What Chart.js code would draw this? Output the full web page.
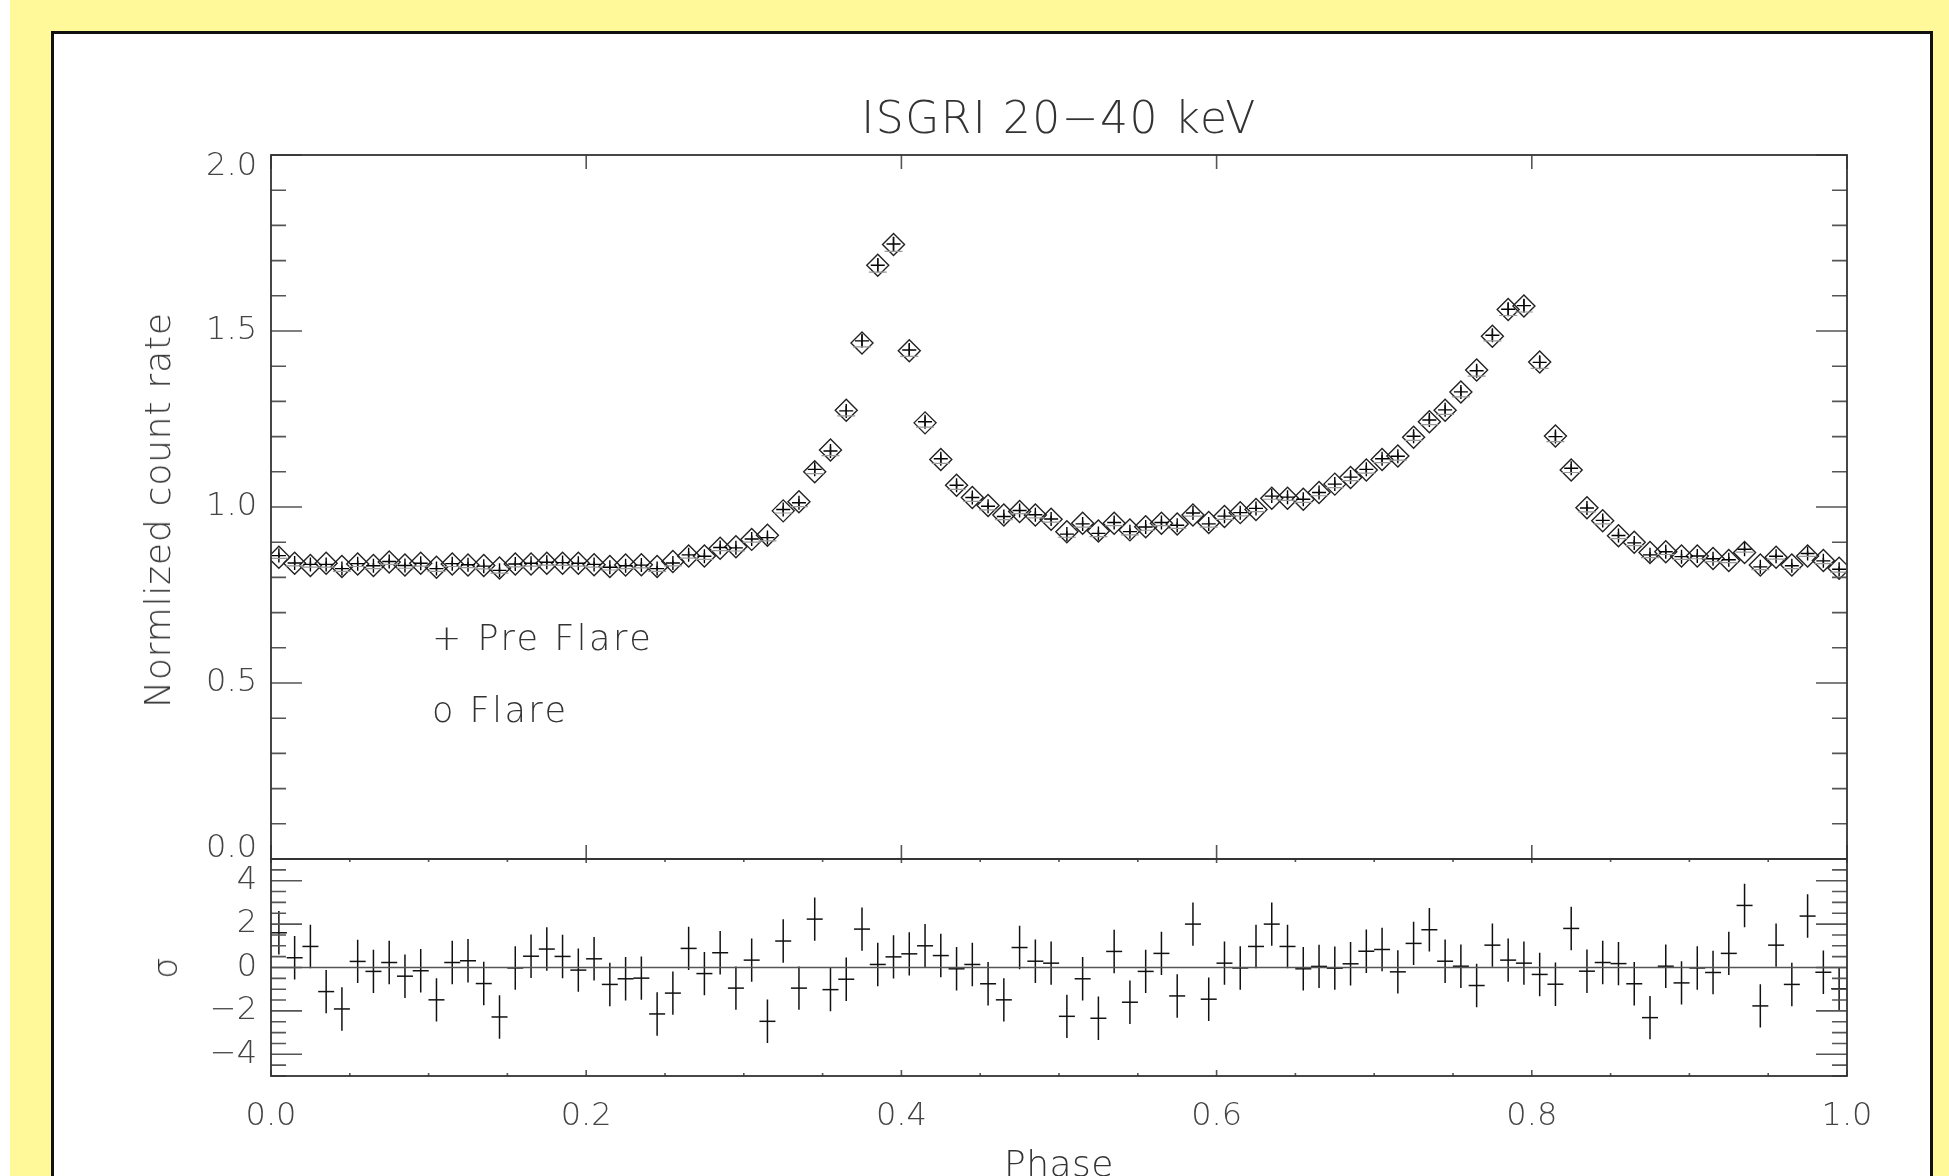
<!DOCTYPE html>
<html>
<head>
<meta charset="utf-8">
<script src="https://cdn.jsdelivr.net/npm/chart.js@4.4.1/dist/chart.umd.min.js"></script>
<style>
  html, body { margin: 0; padding: 0; }
  body {
    width: 1949px; height: 1176px; overflow: hidden; position: relative;
    background: #fff99a;
    font-family: 'DejaVu Sans', sans-serif; font-weight: 200; color: #333;
  }
  #edge { position: absolute; left: 0; top: 0; width: 10px; height: 1176px; background: #fff; }
  #panel {
    position: absolute; left: 51px; top: 31px; width: 1882px; height: 1200px;
    background: #fff; border: 3px solid #111; box-sizing: border-box;
  }
  canvas { position: absolute; left: 0; top: 0; }
  .txt { position: absolute; white-space: nowrap; line-height: 1; }
  .c { transform: translate(-50%, -50%); }
  .rot { transform: translate(-50%, -50%) rotate(-90deg); }
  .l { transform: translateY(-50%); }
</style>
</head>
<body>
<div id="edge"></div>
<div id="panel"></div>
<canvas id="top" width="1949" height="1176"></canvas>
<canvas id="bottom" width="1949" height="1176"></canvas>

<div class="txt c" style="left:1059px; top:118px; font-size:44px; letter-spacing:1.5px;">ISGRI 20−40 keV</div>
<div class="txt rot" style="left:158px; top:510px; font-size:36px; letter-spacing:0.8px;">Normlized count rate</div>
<div class="txt rot" style="left:165px; top:968px; font-size:34px;">σ</div>
<div class="txt c" style="left:1059px; top:1164px; font-size:36px; letter-spacing:0.5px;">Phase</div>
<div class="txt l" style="left:432px; top:638px; font-size:35px; letter-spacing:2.5px;">+ Pre Flare</div>
<div class="txt l" style="left:432px; top:710px; font-size:35px; letter-spacing:2.5px;">o Flare</div>

<script>
  // phase bin centres
  const phase = [
    0.005, 0.015, 0.025, 0.035, 0.045, 0.055, 0.065, 0.075, 0.085, 0.095,
    0.105, 0.115, 0.125, 0.135, 0.145, 0.155, 0.165, 0.175, 0.185, 0.195,
    0.205, 0.215, 0.225, 0.235, 0.245, 0.255, 0.265, 0.275, 0.285, 0.295,
    0.305, 0.315, 0.325, 0.335, 0.345, 0.355, 0.365, 0.375, 0.385, 0.395,
    0.405, 0.415, 0.425, 0.435, 0.445, 0.455, 0.465, 0.475, 0.485, 0.495,
    0.505, 0.515, 0.525, 0.535, 0.545, 0.555, 0.565, 0.575, 0.585, 0.595,
    0.605, 0.615, 0.625, 0.635, 0.645, 0.655, 0.665, 0.675, 0.685, 0.695,
    0.705, 0.715, 0.725, 0.735, 0.745, 0.755, 0.765, 0.775, 0.785, 0.795,
    0.805, 0.815, 0.825, 0.835, 0.845, 0.855, 0.865, 0.875, 0.885, 0.895,
    0.905, 0.915, 0.925, 0.935, 0.945, 0.955, 0.965, 0.975, 0.985, 0.995
  ];

  // Flare profile (diamonds)
  const flare = [
    0.857, 0.840, 0.834, 0.840, 0.831, 0.838, 0.834, 0.844, 0.835, 0.840,
    0.829, 0.838, 0.835, 0.834, 0.827, 0.838, 0.838, 0.840, 0.840, 0.840,
    0.836, 0.831, 0.835, 0.836, 0.831, 0.845, 0.861, 0.861, 0.883, 0.887,
    0.908, 0.920, 0.989, 1.015, 1.100, 1.162, 1.275, 1.466, 1.687, 1.746,
    1.444, 1.239, 1.135, 1.062, 1.027, 1.004, 0.977, 0.987, 0.977, 0.965,
    0.930, 0.954, 0.932, 0.954, 0.935, 0.944, 0.954, 0.952, 0.977, 0.956,
    0.973, 0.984, 0.993, 1.025, 1.025, 1.022, 1.041, 1.065, 1.084, 1.105,
    1.135, 1.145, 1.198, 1.242, 1.275, 1.327, 1.389, 1.485, 1.561, 1.571,
    1.412, 1.202, 1.105, 0.998, 0.961, 0.918, 0.900, 0.871, 0.873, 0.861,
    0.861, 0.854, 0.848, 0.871, 0.835, 0.857, 0.835, 0.861, 0.848, 0.826
  ];

  // Pre flare profile (crosses) and its errors
  const preFlare = [
    0.862, 0.841, 0.837, 0.837, 0.825, 0.839, 0.833, 0.845, 0.834, 0.840,
    0.825, 0.839, 0.836, 0.832, 0.820, 0.838, 0.840, 0.843, 0.842, 0.840,
    0.837, 0.829, 0.833, 0.835, 0.825, 0.841, 0.864, 0.860, 0.885, 0.884,
    0.909, 0.913, 0.993, 1.012, 1.107, 1.159, 1.273, 1.472, 1.687, 1.747,
    1.446, 1.242, 1.137, 1.062, 1.027, 1.002, 0.973, 0.990, 0.978, 0.966,
    0.923, 0.952, 0.925, 0.956, 0.930, 0.943, 0.956, 0.948, 0.983, 0.952,
    0.974, 0.984, 0.996, 1.031, 1.028, 1.022, 1.041, 1.065, 1.085, 1.107,
    1.137, 1.144, 1.201, 1.247, 1.276, 1.327, 1.387, 1.488, 1.562, 1.572,
    1.411, 1.200, 1.110, 0.997, 0.962, 0.919, 0.898, 0.864, 0.873, 0.859,
    0.861, 0.853, 0.850, 0.880, 0.830, 0.860, 0.833, 0.868, 0.847, 0.823
  ];
  const preFlareErr = [
    0.008, 0.008, 0.008, 0.008, 0.008, 0.008, 0.008, 0.008, 0.008, 0.008,
    0.008, 0.008, 0.008, 0.008, 0.008, 0.008, 0.008, 0.008, 0.008, 0.008,
    0.008, 0.008, 0.008, 0.008, 0.008, 0.008, 0.009, 0.009, 0.009, 0.009,
    0.009, 0.009, 0.010, 0.011, 0.012, 0.013, 0.014, 0.017, 0.020, 0.021,
    0.018, 0.015, 0.013, 0.012, 0.011, 0.010, 0.009, 0.009, 0.009, 0.009,
    0.009, 0.009, 0.009, 0.009, 0.009, 0.009, 0.009, 0.009, 0.009, 0.009,
    0.009, 0.009, 0.009, 0.009, 0.009, 0.009, 0.009, 0.010, 0.010, 0.011,
    0.011, 0.011, 0.012, 0.013, 0.013, 0.014, 0.015, 0.016, 0.018, 0.018,
    0.017, 0.014, 0.012, 0.011, 0.010, 0.009, 0.008, 0.008, 0.008, 0.008,
    0.008, 0.008, 0.008, 0.008, 0.008, 0.008, 0.008, 0.008, 0.008, 0.008
  ];

  // residuals in sigma
  const residual = [
    1.60, 0.45, 0.97, -1.11, -1.91, 0.28, -0.18, 0.23, -0.40, -0.15,
    -1.49, 0.23, 0.31, -0.74, -2.28, -0.02, 0.52, 0.85, 0.51, -0.12,
    0.40, -0.78, -0.52, -0.49, -2.14, -1.18, 0.88, -0.28, 0.68, -0.95,
    0.34, -2.48, 1.22, -0.95, 2.23, -1.02, -0.54, 1.77, 0.14, 0.49,
    0.63, 1.00, 0.55, -0.06, 0.14, -0.75, -1.49, 0.92, 0.29, 0.20,
    -2.25, -0.52, -2.34, 0.74, -1.60, -0.18, 0.65, -1.31, 2.00, -1.46,
    0.20, -0.02, 0.97, 2.00, 0.97, -0.06, 0.05, -0.03, 0.17, 0.75,
    0.83, -0.20, 1.11, 1.74, 0.29, 0.06, -0.83, 1.03, 0.34, 0.20,
    -0.32, -0.77, 1.80, -0.17, 0.23, 0.18, -0.75, -2.31, 0.06, -0.71,
    -0.02, -0.23, 0.65, 2.86, -1.77, 1.03, -0.78, 2.37, -0.22, -0.98
  ];

  // tick labels
  const xTickVals = [0, 0.2, 0.4, 0.6, 0.8, 1.0];
  const xTickLabels = ['0.0', '0.2', '0.4', '0.6', '0.8', '1.0'];
  const yTickVals = [0, 0.5, 1.0, 1.5, 2.0];
  const yTickLabels = ['0.0', '0.5', '1.0', '1.5', '2.0'];
  const sTickVals = [-4, -2, 0, 2, 4];
  const sTickLabels = ['−4', '−2', '0', '2', '4'];

  const LABEL_FONT = '200 32px "DejaVu Sans", sans-serif';

  function pts(ys) {
    return phase.map((p, i) => ({ x: p, y: ys[i] }));
  }

  // Frame, inward ticks, error bars and tick labels
  const axesPlugin = {
    id: 'axesPlugin',
    afterDatasetsDraw(chart, args, o) {
      const { ctx, chartArea: a, scales: { x, y } } = chart;
      ctx.save();

      // error bars
      if (o.errors) {
        ctx.lineWidth = 1.5;
        ctx.strokeStyle = '#111';
        ctx.beginPath();
        o.errors.vals.forEach((v, i) => {
          const px = x.getPixelForValue(phase[i]);
          const e = o.errors.err[i];
          ctx.moveTo(px, y.getPixelForValue(v - e));
          ctx.lineTo(px, y.getPixelForValue(v + e));
        });
        ctx.stroke();
        if (o.errors.cap) {
          ctx.lineWidth = 1.2;
          ctx.strokeStyle = '#999';
          ctx.beginPath();
          o.errors.vals.forEach((v, i) => {
            const px = x.getPixelForValue(phase[i]);
            const y1 = y.getPixelForValue(v - o.errors.err[i]);
            ctx.moveTo(px - o.errors.cap, y1); ctx.lineTo(px + o.errors.cap, y1);
          });
          ctx.stroke();
        }
      }

      // zero line
      if (o.zeroLine) {
        ctx.strokeStyle = '#555';
        ctx.lineWidth = 1.6;
        ctx.beginPath();
        const py = y.getPixelForValue(0);
        ctx.moveTo(a.left, py); ctx.lineTo(a.right, py);
        ctx.stroke();
      }

      // ticks
      ctx.strokeStyle = '#555';
      ctx.lineWidth = 1.6;
      ctx.beginPath();
      const eps = 1e-6;
      for (let v = y.min; v <= y.max + eps; v += o.yMinor) {
        const major = Math.abs(v / o.yMajor - Math.round(v / o.yMajor)) < 1e-4;
        const len = major ? 31 : 15;
        const py = y.getPixelForValue(v);
        ctx.moveTo(a.left, py); ctx.lineTo(a.left + len, py);
        ctx.moveTo(a.right, py); ctx.lineTo(a.right - len, py);
      }
      for (let v = 0; v <= 1 + eps; v += 0.05) {
        const major = Math.abs(v / 0.2 - Math.round(v / 0.2)) < 1e-4;
        const px = x.getPixelForValue(v);
        const t = major ? o.topMajor : o.topMinor;
        const b = major ? o.botMajor : o.botMinor;
        if (t) { ctx.moveTo(px, a.top); ctx.lineTo(px, a.top + t); }
        if (b) { ctx.moveTo(px, a.bottom); ctx.lineTo(px, a.bottom - b); }
      }
      ctx.stroke();

      // frame
      ctx.strokeStyle = '#333';
      ctx.lineWidth = 1.8;
      ctx.strokeRect(a.left, a.top, a.right - a.left, a.bottom - a.top);

      // tick labels
      ctx.fillStyle = '#444';
      ctx.font = LABEL_FONT;
      ctx.textAlign = 'right';
      ctx.textBaseline = 'middle';
      o.yLabels.vals.forEach((v, i) => {
        let py = y.getPixelForValue(v);
        py = Math.min(Math.max(py, a.top + 12), a.bottom - 10);
        ctx.fillText(o.yLabels.text[i], a.left - 14, py);
      });
      if (o.xLabels) {
        ctx.textAlign = 'center';
        o.xLabels.vals.forEach((v, i) => {
          ctx.fillText(o.xLabels.text[i], x.getPixelForValue(v), 1117);
        });
      }
      ctx.restore();
    }
  };

  const baseOptions = (padding) => ({
    responsive: false,
    animation: false,
    events: [],
    layout: { autoPadding: false, padding: padding }
  });

  // Light curve panel
  new Chart(document.getElementById('top'), {
    type: 'scatter',
    data: {
      datasets: [
        {
          label: 'Pre Flare',
          data: pts(preFlare),
          pointStyle: 'cross',
          pointRadius: 7,
          borderColor: '#000',
          borderWidth: 1.4,
          showLine: false
        },
        {
          label: 'Flare',
          data: pts(flare),
          pointStyle: 'rectRot',
          pointRadius: 11,
          borderColor: '#222',
          backgroundColor: 'rgba(0,0,0,0)',
          borderWidth: 1.4,
          showLine: false
        }
      ]
    },
    options: Object.assign(baseOptions({ left: 271, top: 155, right: 102, bottom: 317 }), {
      scales: {
        x: { type: 'linear', min: 0, max: 1, display: false },
        y: { type: 'linear', min: 0, max: 2, display: false }
      },
      plugins: {
        legend: { display: false }, tooltip: { enabled: false },
        axesPlugin: {
          errors: { vals: preFlare, err: preFlareErr, cap: 9 },
          yMinor: 0.1, yMajor: 0.5,
          topMajor: 14, topMinor: 0, botMajor: 14, botMinor: 0,
          yLabels: { vals: yTickVals, text: yTickLabels }
        }
      }
    }),
    plugins: [axesPlugin]
  });

  // Residual panel
  new Chart(document.getElementById('bottom'), {
    type: 'scatter',
    data: {
      datasets: [
        {
          label: 'Residual',
          data: pts(residual),
          pointStyle: 'line',
          pointRadius: 8,
          borderColor: '#111',
          borderWidth: 1.5,
          showLine: false
        }
      ]
    },
    options: Object.assign(baseOptions({ left: 271, top: 859, right: 102, bottom: 100 }), {
      scales: {
        x: { type: 'linear', min: 0, max: 1, display: false },
        y: { type: 'linear', min: -5, max: 5, display: false }
      },
      plugins: {
        legend: { display: false }, tooltip: { enabled: false },
        axesPlugin: {
          errors: { vals: residual, err: residual.map(() => 1), cap: 0 },
          zeroLine: true,
          yMinor: 0.5, yMajor: 2,
          topMajor: 4, topMinor: 3, botMajor: 6, botMinor: 3,
          yLabels: { vals: sTickVals, text: sTickLabels },
          xLabels: { vals: xTickVals, text: xTickLabels }
        }
      }
    }),
    plugins: [axesPlugin]
  });
</script>
</body>
</html>
